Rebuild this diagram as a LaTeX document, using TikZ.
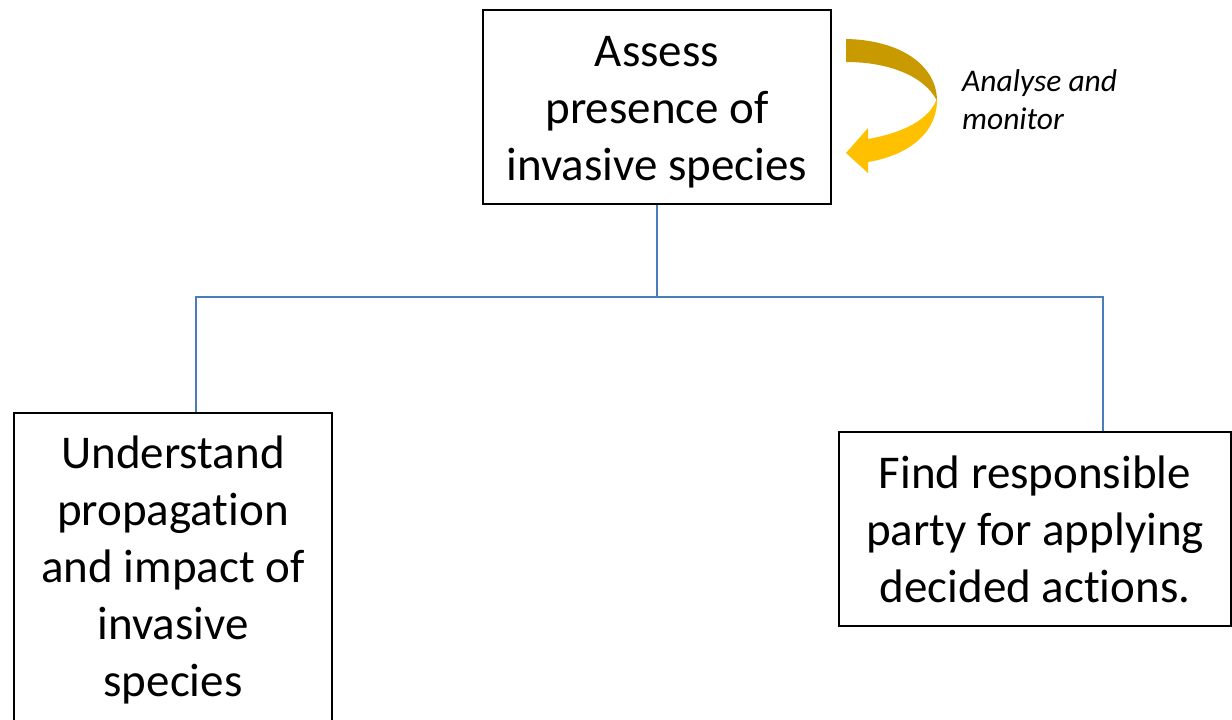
\documentclass[tikz,border=0pt]{standalone}
\usepackage{fontspec}
\setmainfont[Ligatures={NoCommon}]{Carlito}
\definecolor{linkblue}{HTML}{4A7EBB}
\definecolor{golddark}{HTML}{C99A00}
\definecolor{goldlight}{HTML}{FFC000}
\tikzset{
  box/.style={draw=black, line width=1.6pt, fill=white, inner sep=0pt, align=center,
    font=\fontsize{47}{57}\selectfont},
  link/.style={draw=linkblue, line width=1.8pt},
  note/.style={anchor=west, align=left, inner sep=0pt, font=\fontsize{31.5}{38}\selectfont\itshape}
}
\begin{document}
\begin{tikzpicture}[x=1pt,y=-1pt]
\useasboundingbox (0,0) rectangle (1232,720);
\fill[white] (0,0) rectangle (1232,720);
\node[box, minimum width=348, minimum height=194] (top) at (657,107) {\rule{0pt}{41pt}Assess\\presence of\\invasive species};
\node[box, minimum width=318, minimum height=313] (left) at (173,569.5) {Understand\\propagation\\and impact of\\invasive\\species};
\node[box, minimum width=392, minimum height=194] (right) at (1035,529) {Find responsible\\party for applying\\decided actions.};
\coordinate (bus) at (657,297);
\draw[link] (top.south) -- (bus);
\draw[link] ([xshift=23]left.north) |- (bus) -| ([xshift=68]right.north);
% curved arrow
\fill[golddark] (846,39) .. controls (900,40) and (937,65) .. (937,101)
  .. controls (926,78) and (892,62) .. (846,62) -- cycle;
\fill[goldlight] (937,98) .. controls (938,135) and (905,156) .. (868,162)
  -- (868,173) -- (846,153) -- (868,128) -- (868,139)
  .. controls (902,133) and (930,120) .. (937,98) -- cycle;
\node[note] (lbl) at (962,100) {Analyse and\\monitor};
\end{tikzpicture}
\end{document}
